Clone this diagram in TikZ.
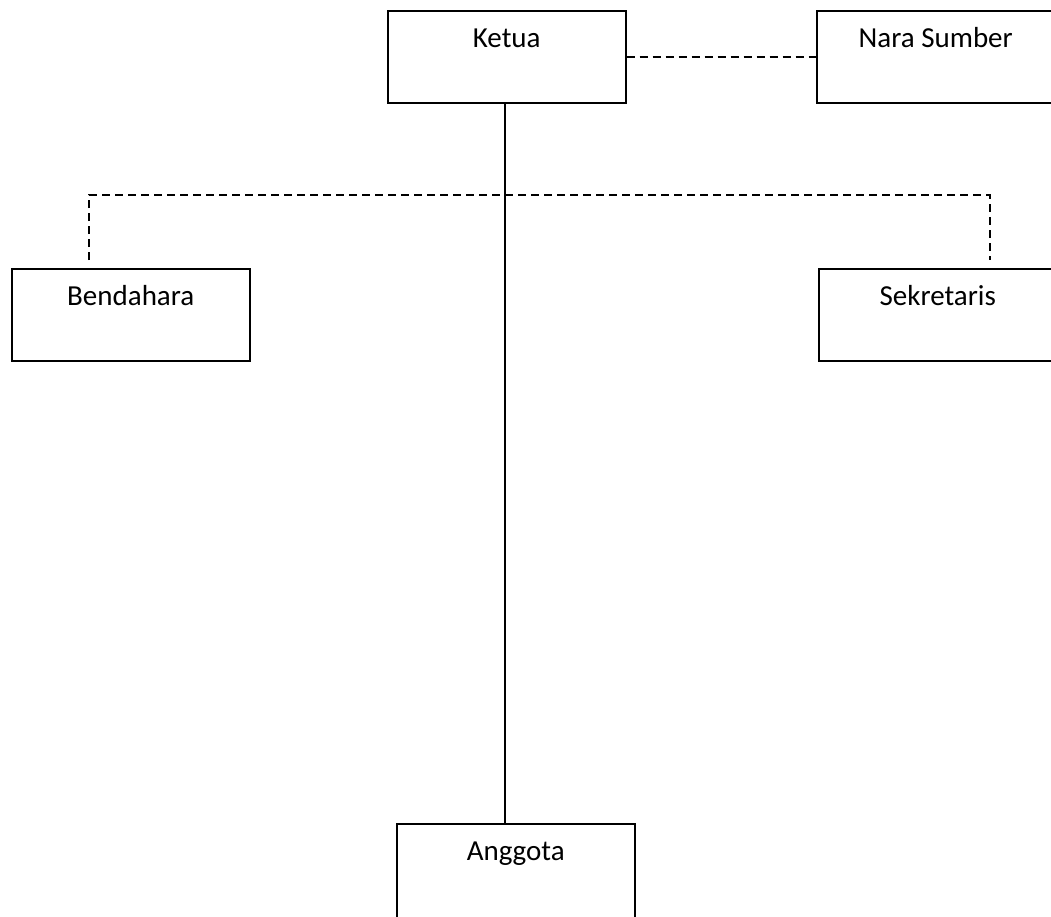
\documentclass[tikz,border=0pt]{standalone}
\usepackage{fontspec}
\setmainfont{Carlito}
\begin{document}
\begin{tikzpicture}[
        x = 1pt, y = -1pt,
        line width = 1.5pt,
        kotak/.style = {draw, rectangle, inner sep = 0, anchor = north west,
            minimum width = 238pt, minimum height = 92pt,
            text height = 37pt, text depth = 55pt,
            font = \fontsize{29}{35}\selectfont},
        putus/.style = {dash pattern = on 8pt off 5pt}
    ]
        \useasboundingbox (0, 0) rectangle (1051, 916);

        \node[kotak] (ketua) at (387, 10) {Ketua};
        \node[kotak] (nara) at (816, 10) {Nara Sumber};
        \node[kotak] (bendahara) at (11, 268) {Bendahara};
        \node[kotak] (sekretaris) at (818, 268) {Sekretaris};
        \node[kotak, text depth = 70pt] (anggota) at (396, 823) {Anggota};

        \coordinate (kiri) at (89, 260);
        \coordinate (kanan) at (990, 260);

        \draw[putus] (ketua.east) -- (nara.west);
        \draw ([xshift=-2pt]ketua.south) -- ([xshift=-2pt]ketua.south |- anggota.north);
        \draw[putus] (kiri) -- ++(0, -65) -| (kanan);
    \end{tikzpicture}
\end{document}
